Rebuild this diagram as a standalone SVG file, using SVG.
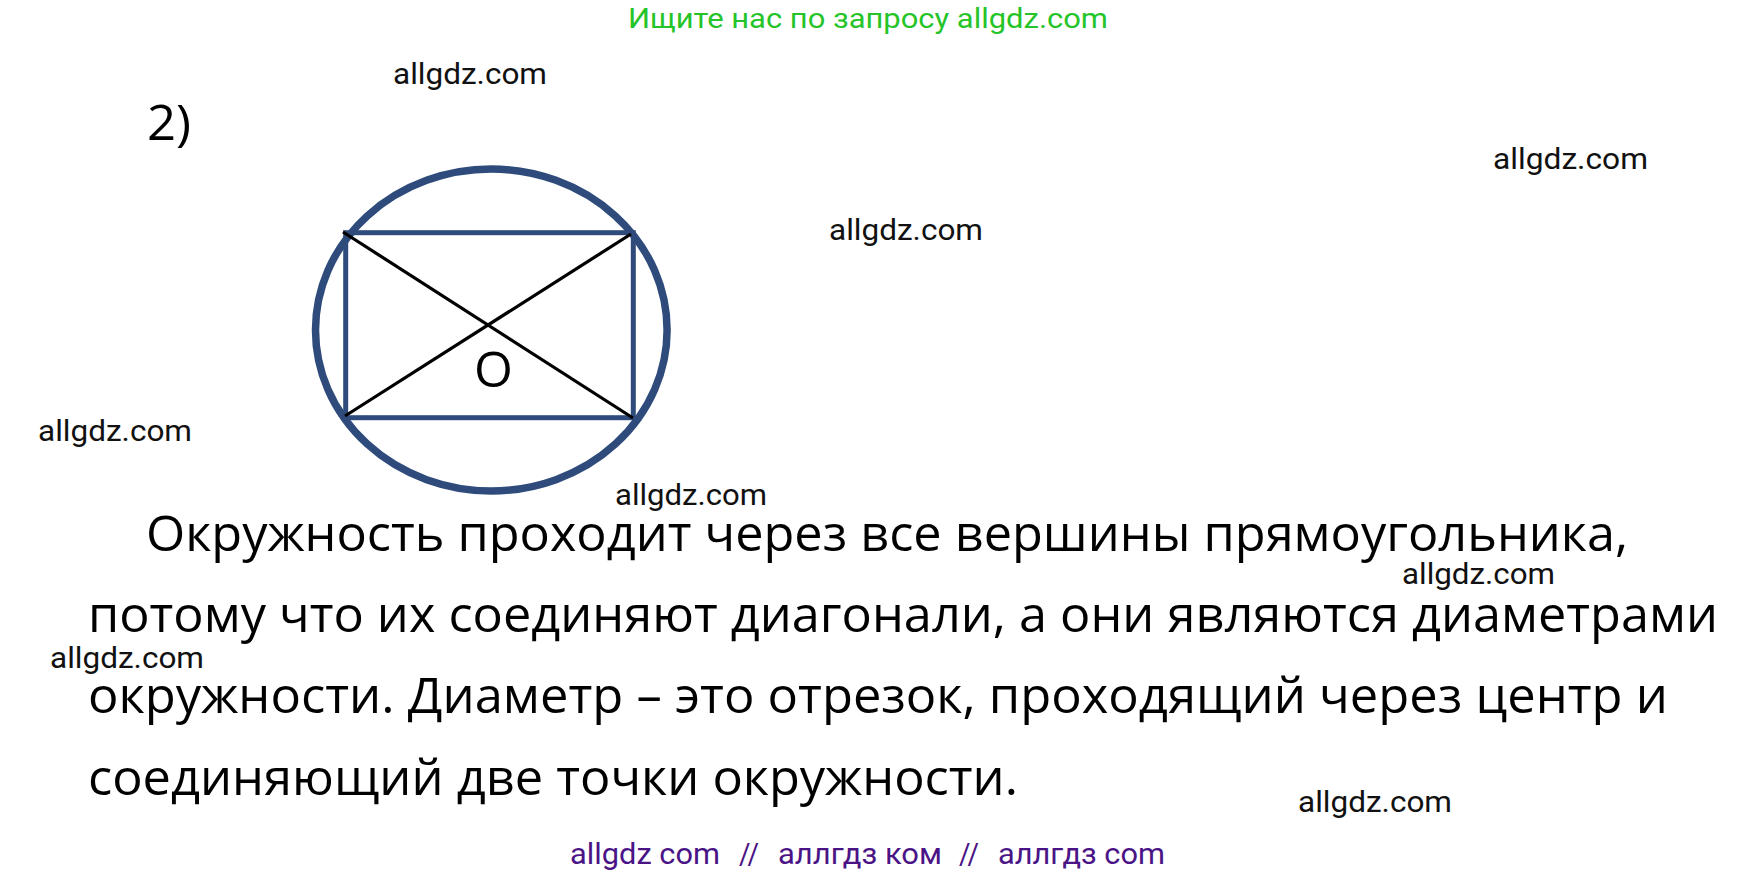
<svg xmlns="http://www.w3.org/2000/svg" width="1737" height="878" viewBox="0 0 1737 878">
<style>
.wm{font-family:Roboto,"Liberation Sans",sans-serif;font-size:30px;fill:#111}
.main{font-family:"Open Sans","Noto Sans",sans-serif;font-size:50px;fill:#000}
.blue{fill:none;stroke:#2e4b7b}
.diag{stroke:#000;stroke-width:3.2}
.pur{font-family:Roboto,"Liberation Sans",sans-serif;font-size:29px;fill:#4a1486}
</style>
<rect width="1737" height="878" fill="#fff"/>
<text x="628" y="28" font-family="Roboto, 'Liberation Sans', sans-serif" font-size="28" fill="#25c428" textLength="480" lengthAdjust="spacingAndGlyphs">Ищите нас по запросу allgdz.com</text>
<text class="main" x="147" y="140" font-size="52" textLength="44" lengthAdjust="spacingAndGlyphs">2)</text>
<g id="figure">
<ellipse id="circle" class="blue" cx="491.3" cy="330" rx="175.8" ry="161" stroke-width="7.5"/>
<rect id="rectangle" class="blue" x="345.7" y="232.7" width="287.6" height="185" stroke-width="5"/>
<g id="diagonals">
<line class="diag" x1="343" y1="232" x2="633" y2="418"/>
<line class="diag" x1="631" y1="234" x2="345" y2="416"/>
</g>
<text id="labelO" class="main" x="474" y="387">O</text>
</g>
<g id="text">
<text class="main" x="146" y="551" textLength="1482" lengthAdjust="spacingAndGlyphs">Окружность проходит через все вершины прямоугольника,</text>
<text class="main" x="88" y="632" textLength="1630" lengthAdjust="spacingAndGlyphs">потому что их соединяют диагонали, а они являются диаметрами</text>
<text class="main" x="88" y="713" textLength="1580" lengthAdjust="spacingAndGlyphs">окружности. Диаметр – это отрезок, проходящий через центр и</text>
<text class="main" x="88" y="795" textLength="930" lengthAdjust="spacingAndGlyphs">соединяющий две точки окружности.</text>
</g>
<g id="watermarks">
<text class="wm" x="393" y="84" textLength="154" lengthAdjust="spacingAndGlyphs">allgdz.com</text>
<text class="wm" x="1493" y="169" textLength="155" lengthAdjust="spacingAndGlyphs">allgdz.com</text>
<text class="wm" x="829" y="240" textLength="154" lengthAdjust="spacingAndGlyphs">allgdz.com</text>
<text class="wm" x="38" y="441" textLength="154" lengthAdjust="spacingAndGlyphs">allgdz.com</text>
<text class="wm" x="615" y="505" textLength="152" lengthAdjust="spacingAndGlyphs">allgdz.com</text>
<text class="wm" x="1402" y="584" textLength="153" lengthAdjust="spacingAndGlyphs">allgdz.com</text>
<text class="wm" x="50" y="668" textLength="154" lengthAdjust="spacingAndGlyphs">allgdz.com</text>
<text class="wm" x="1298" y="812" textLength="154" lengthAdjust="spacingAndGlyphs">allgdz.com</text>
</g>
<g id="footer">
<text class="pur" x="570" y="864" textLength="150" lengthAdjust="spacingAndGlyphs">allgdz com</text>
<text class="pur" x="739" y="864" textLength="20" lengthAdjust="spacingAndGlyphs">//</text>
<text class="pur" x="778" y="864" textLength="164" lengthAdjust="spacingAndGlyphs">аллгдз ком</text>
<text class="pur" x="959" y="864" textLength="20" lengthAdjust="spacingAndGlyphs">//</text>
<text class="pur" x="998" y="864" textLength="167" lengthAdjust="spacingAndGlyphs">аллгдз com</text>
</g>
</svg>
